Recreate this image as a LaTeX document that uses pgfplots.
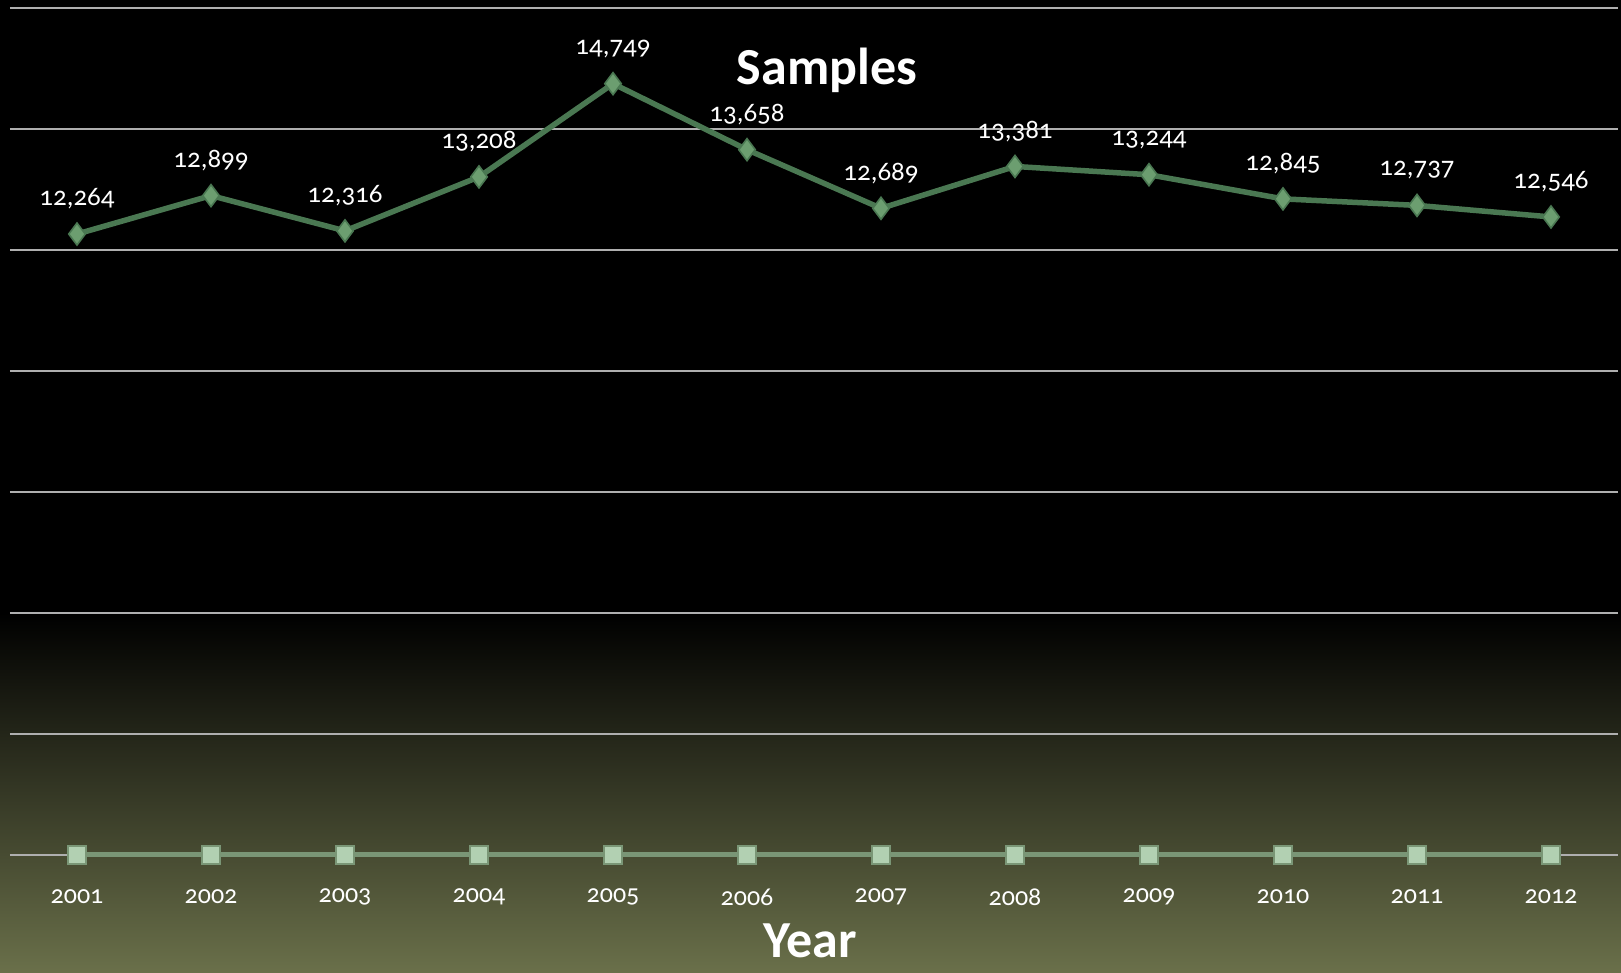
\documentclass[border=0pt]{standalone}
\usepackage{fontspec}
\setmainfont{Carlito}[Numbers=OldStyle]
\usepackage{pgfplots}
\pgfplotsset{compat=1.18}
\definecolor{olive}{RGB}{106,112,74}
\definecolor{gridc}{RGB}{175,175,175}
\definecolor{lineA}{RGB}{74,120,82}
\definecolor{markA}{RGB}{108,158,112}
\definecolor{lineB}{RGB}{122,150,118}
\definecolor{markB}{RGB}{178,208,178}
\begin{document}
\begin{tikzpicture}
\fill[black] (0,0) rectangle (810.5pt,486.5pt);
\useasboundingbox (0,0) rectangle (810.5pt,486.5pt);
\shade[top color=black, bottom color=olive] (0,0) rectangle (810.5pt,180pt);
\begin{axis}[
  at={(5pt,59pt)}, anchor=south west,
  width=804pt, height=423.5pt, scale only axis,
  xmin=-0.5, xmax=11.5, ymin=2000, ymax=16000,
  ytick={2000,4000,...,16000}, yticklabels={}, scaled y ticks=false,
  xtick={0,...,11},
  xticklabels={2001,2002,2003,2004,2005,2006,2007,2008,2009,2010,2011,2012},
  xticklabel style={font=\fontsize{13}{15}\selectfont, text=white, anchor=center, yshift=-21pt},
  major tick length=0pt,
  axis line style={draw=none},
  ymajorgrids, grid style={gridc, line width=1pt},
  clip=false,
  /pgf/number format/assume math mode=true,
  /pgf/number format/1000 sep={,},
  nodes near coords,
  nodes near coords style={font=\fontsize{13.5}{15}\selectfont, text=white, anchor=center, yshift=17.5pt},
]
\addplot[lineA, line width=2.75pt, mark=diamond*, mark size=5.5pt,
  mark options={fill=markA, draw=lineA, line width=0.8pt}]
  coordinates {(0,12264) (1,12899) (2,12316) (3,13208) (4,14749) (5,13658)
               (6,12689) (7,13381) (8,13244) (9,12845) (10,12737) (11,12546)};
\end{axis}
\begin{axis}[
  at={(5pt,59pt)}, anchor=south west,
  width=804pt, height=423.5pt, scale only axis,
  xmin=-0.5, xmax=11.5, ymin=0, ymax=7000,
  hide axis, clip=false,
]
\addplot[lineB, line width=2.5pt, mark=square*, mark size=4.5pt,
  mark options={fill=markB, draw=lineB, line width=0.8pt}]
  coordinates {(0,0) (1,0) (2,0) (3,0) (4,0) (5,0)
               (6,0) (7,0) (8,0) (9,0) (10,0) (11,0)};
\end{axis}
\node[text=white, font=\bfseries\fontsize{26}{30}\selectfont] at (413.5pt,451.5pt) {Samples};
\node[text=white, font=\bfseries\fontsize{26}{30}\selectfont] at (405pt,16pt) {Year};
\end{tikzpicture}
\end{document}
